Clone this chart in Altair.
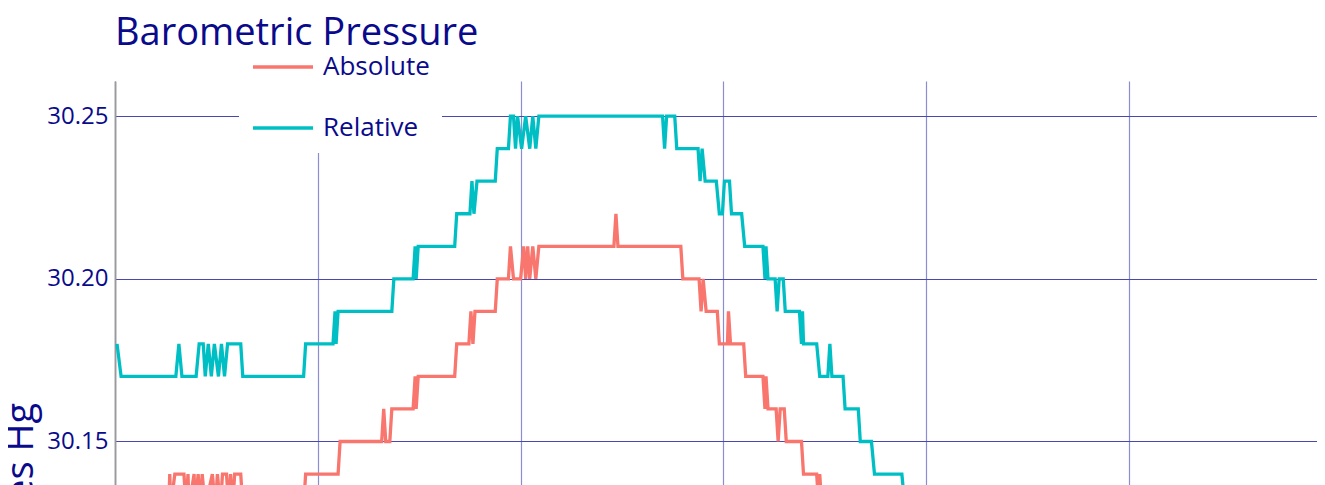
import altair as alt
import pandas as pd

series_names = ["Absolute", "Relative"]
series_colors = ["#F8766D", "#00BFC4"]

# Relative pressure (inches Hg) vs. time index
rel_t = [1, 3, 30, 31.5, 33, 40, 41.5, 43.5, 44.5, 46,
         47.5, 49, 51, 52.5, 54, 55.5, 62, 63, 93, 94,
         107.5, 108.5, 109, 110, 136.5, 137.5, 147, 148, 148.5, 149.5,
         167.5, 168.5, 175, 176, 177, 178.5, 187.5, 188.5, 194, 195,
         196.5, 197.5, 198.5, 200.5, 202.5, 204.5, 206, 207.5, 209, 270,
         271, 272, 276, 277, 287.5, 288.5, 289.5, 291, 296.5, 298,
         299.5, 300.5, 303, 304, 309, 310.5, 319.5, 320.5, 321, 322,
         325.5, 326.5, 327.5, 329.5, 330.5, 337.5, 338.5, 339, 339.5, 346,
         347.5, 351.5, 352.5, 353.5, 359, 360, 366.5, 367.5, 373, 374.5,
         388, 389.5]
rel_v = [30.18, 30.17, 30.17, 30.18, 30.17, 30.17, 30.18, 30.18, 30.17, 30.18,
         30.17, 30.18, 30.17, 30.18, 30.17, 30.18, 30.18, 30.17, 30.17, 30.18,
         30.18, 30.19, 30.18, 30.19, 30.19, 30.20, 30.20, 30.21, 30.20, 30.21,
         30.21, 30.22, 30.22, 30.23, 30.22, 30.23, 30.23, 30.24, 30.24, 30.25,
         30.25, 30.24, 30.25, 30.24, 30.25, 30.24, 30.25, 30.24, 30.25, 30.25,
         30.24, 30.25, 30.25, 30.24, 30.24, 30.23, 30.24, 30.23, 30.23, 30.22,
         30.22, 30.23, 30.23, 30.22, 30.22, 30.21, 30.21, 30.20, 30.21, 30.20,
         30.20, 30.19, 30.20, 30.20, 30.19, 30.19, 30.18, 30.19, 30.18, 30.18,
         30.17, 30.17, 30.18, 30.17, 30.17, 30.16, 30.16, 30.15, 30.15, 30.14,
         30.14, 30.13]

# Absolute pressure (inches Hg) vs. time index
abs_t = [1, 26.5, 27, 27.5, 29.5, 34, 35, 36, 36.5, 39,
         39.5, 41, 42, 43, 44.5, 48, 49.5, 50.5, 52, 53,
         55, 56, 57, 58, 59, 62, 63, 93, 94, 110,
         111, 131.5, 132.5, 133.5, 135.5, 136.5, 147, 148, 148.5, 149.5,
         167.5, 168.5, 174.5, 175.5, 176.5, 177.5, 187.5, 188.5, 194, 195,
         196.5, 200, 201.5, 202.5, 203.5, 204.5, 206, 207.5, 209, 246,
         247, 248, 279, 280, 288, 289, 290, 291.5, 297, 298,
         302, 302.5, 303.5, 310, 311, 319.5, 320.5, 321, 322, 326,
         327, 328, 330, 331, 338.5, 339.5, 346, 347, 347.5, 348.5,
         360]
abs_v = [30.13, 30.13, 30.14, 30.13, 30.14, 30.14, 30.13, 30.14, 30.13, 30.14,
         30.13, 30.14, 30.13, 30.14, 30.13, 30.14, 30.13, 30.14, 30.13, 30.14,
         30.14, 30.13, 30.14, 30.13, 30.14, 30.14, 30.13, 30.13, 30.14, 30.14,
         30.15, 30.15, 30.16, 30.15, 30.15, 30.16, 30.16, 30.17, 30.16, 30.17,
         30.17, 30.18, 30.18, 30.19, 30.18, 30.19, 30.19, 30.20, 30.20, 30.21,
         30.20, 30.20, 30.21, 30.20, 30.21, 30.20, 30.21, 30.20, 30.21, 30.21,
         30.22, 30.21, 30.21, 30.20, 30.20, 30.19, 30.20, 30.19, 30.19, 30.18,
         30.18, 30.19, 30.18, 30.18, 30.17, 30.17, 30.16, 30.17, 30.16, 30.16,
         30.15, 30.16, 30.16, 30.15, 30.15, 30.14, 30.14, 30.13, 30.14, 30.13,
         30.13]

y_ticks = [30.05, 30.10, 30.15, 30.20, 30.25]
x_ticks = [0, 100, 200, 300, 400, 500]

assert len(rel_t) == len(rel_v) and len(abs_t) == len(abs_v)

df = pd.concat([
    pd.DataFrame({"t": abs_t, "p": abs_v, "series": "Absolute"}),
    pd.DataFrame({"t": rel_t, "p": rel_v, "series": "Relative"}),
], ignore_index=True)

NAVY = "#0a0a8c"
FONT = "Open Sans"

chart = alt.Chart(df).mark_line(strokeWidth=3.3, interpolate="linear").encode(
    x=alt.X("t:Q",
            scale=alt.Scale(domain=[0, 592.7], nice=False, zero=False),
            axis=alt.Axis(values=x_ticks, labels=False, ticks=False, domain=False,
                          title=None, grid=True, gridColor="#8c8cd2", gridWidth=1.2)),
    y=alt.Y("p:Q",
            scale=alt.Scale(domain=[30.01, 30.2608], nice=False, zero=False),
            axis=alt.Axis(values=y_ticks, format=".2f", ticks=False, labelPadding=7,
                          title="Inches Hg", titleFontSize=38, titleFontWeight="normal",
                          titleColor=NAVY, titleFont=FONT, titlePadding=6,
                          labelFontSize=24, labelColor=NAVY, labelFont=FONT,
                          domain=True, domainColor="#9a9a9a", domainWidth=1.8,
                          grid=True, gridColor="#4848b0", gridWidth=1.1)),
    color=alt.Color("series:N",
                    scale=alt.Scale(domain=series_names, range=series_colors),
                    legend=alt.Legend(title=None, orient="none", legendX=124, legendY=-58,
                                      symbolType="stroke", symbolSize=3600,
                                      symbolStrokeWidth=3.3, labelFontSize=26,
                                      labelFont=FONT, labelColor=NAVY, labelOffset=8,
                                      rowPadding=16, padding=12, fillColor="white")),
).properties(
    width=1202,
    height=816,
    title=alt.TitleParams("Barometric Pressure", anchor="start", frame="group",
                          fontSize=38, font=FONT, color=NAVY, fontWeight="normal",
                          baseline="alphabetic", offset=0, dy=60),
    padding={"left": 107, "top": 73, "right": 0, "bottom": 10},
    autosize=alt.AutoSizeParams(type="none"),
).configure_view(stroke=None)

chart.save("out.html", embed_options={"renderer": "svg", "actions": False})
